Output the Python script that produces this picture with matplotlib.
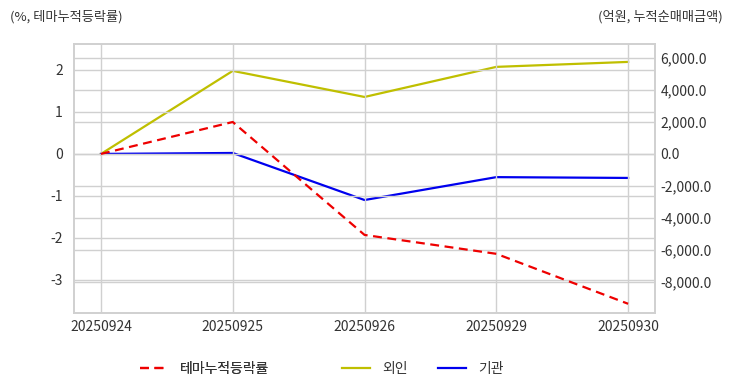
import matplotlib
matplotlib.use('Agg')
import matplotlib.pyplot as plt

plt.rcParams['font.family'] = ['Noto Sans CJK KR', 'DejaVu Sans']

# 데이터
dates = ['20250924', '20250925', '20250926', '20250929', '20250930']
theme_rate = [0.0, 0.76, -1.93, -2.38, -3.57]        # %
foreign = [0.0, 5190.0, 3560.0, 5440.0, 5750.0]      # 억원
institution = [0.0, 60.0, -2880.0, -1450.0, -1500.0]  # 억원

left_ticks = [-3, -2, -1, 0, 1, 2]
right_ticks = [-8000, -6000, -4000, -2000, 0, 2000, 4000, 6000]

grid_c = '#d0d0d0'
text_c = '#333333'

fig = plt.figure(figsize=(7.32, 3.92), dpi=100)
ax = fig.add_axes([0.101, 0.2015, 0.794, 0.6865])
ax2 = ax.twinx()

x = list(range(len(dates)))
l1, = ax.plot(x, theme_rate, color='#ee0000', linestyle='--', linewidth=1.6, dashes=(4, 2.5), label='테마누적등락률')
l2, = ax2.plot(x, foreign, color='#bfbf00', linewidth=1.6, label='외인')
l3, = ax2.plot(x, institution, color='#0000ee', linewidth=1.6, label='기관')

ax.set_xlim(-0.205, 4.205)
ax.set_ylim(-3.79, 2.62)
ax2.set_ylim(-9940, 6875)

ax.set_xticks(x)
ax.set_xticklabels(dates)
ax.set_yticks(left_ticks)
ax.set_yticklabels([str(t) for t in left_ticks])
ax2.set_yticks(right_ticks)
ax2.set_yticklabels([f'{t:,.1f}' for t in right_ticks])

ax.grid(True, color=grid_c, linewidth=1)
ax2.grid(True, axis='y', color=grid_c, linewidth=1)
ax.set_axisbelow(True)
ax2.set_axisbelow(True)
ax.set_zorder(ax2.get_zorder() + 1)
ax.patch.set_visible(False)

for a in (ax, ax2):
    for s in a.spines.values():
        s.set_color(grid_c)
        s.set_linewidth(1.2)
    a.tick_params(length=0, labelsize=10, colors=text_c)
ax.tick_params(axis='x', pad=5)
ax.tick_params(axis='y', pad=8)
ax2.tick_params(axis='y', pad=4)

fig.text(0.013, 0.958, '(%, 테마누적등락률)', fontsize=9.5, color=text_c, ha='left', va='center')
fig.text(0.987, 0.958, '(억원, 누적순매매금액)', fontsize=9.5, color=text_c, ha='right', va='center')

leg_kw = dict(frameon=False, fontsize=10, handlelength=2.0, handletextpad=0.9,
              borderpad=0, borderaxespad=0, labelcolor=text_c, loc='center left')
leg1 = fig.legend(handles=[l1], bbox_to_anchor=(140 / 732, 0.058), **leg_kw)
fig.add_artist(leg1)
fig.legend(handles=[l2, l3], bbox_to_anchor=(342 / 732, 0.058), ncol=2, columnspacing=2.2, **leg_kw)

fig.savefig('out.png', dpi=100)
